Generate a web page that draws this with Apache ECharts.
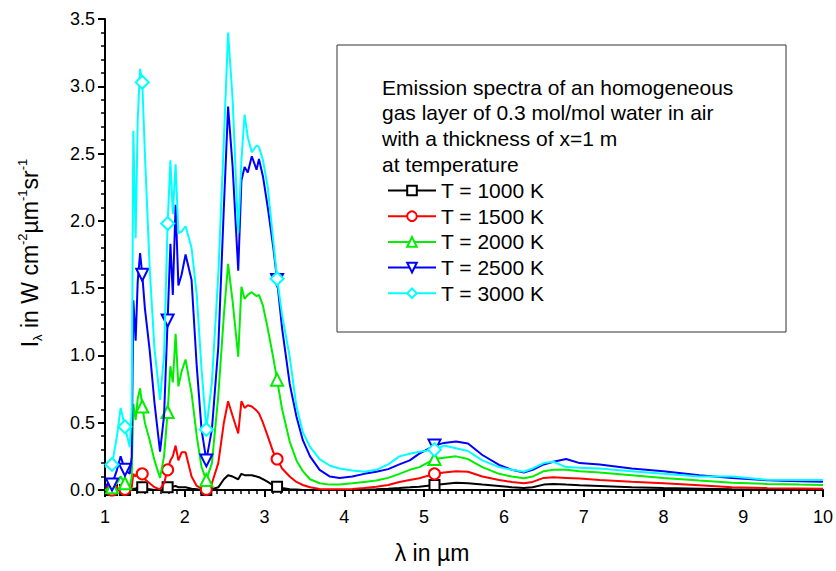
<!DOCTYPE html>
<html>
<head>
<meta charset="utf-8">
<script src="https://cdn.jsdelivr.net/npm/echarts@6/dist/echarts.min.js"></script>
<style>
  html, body { margin: 0; padding: 0; background: #fff; }
  #chart { width: 836px; height: 571px; }
</style>
</head>
<body>
<div id="chart"></div>
<script>
// wavelength grid in µm
const lambda = [
  1.00, 1.05, 1.088, 1.15, 1.196, 1.25, 1.31, 1.335, 1.355, 1.384,
  1.41, 1.44, 1.467, 1.50, 1.56, 1.62, 1.69, 1.74, 1.785, 1.82,
  1.85, 1.885, 1.92, 1.96, 2.01, 2.085, 2.15, 2.21, 2.27, 2.34,
  2.42, 2.49, 2.543, 2.60, 2.67, 2.71, 2.75, 2.79, 2.84, 2.90,
  2.93, 2.98, 3.04, 3.11, 3.157, 3.22, 3.315, 3.40, 3.48, 3.57,
  3.69, 3.82, 3.94, 4.10, 4.25, 4.40, 4.55, 4.69, 4.82, 4.94,
  5.13, 5.25, 5.40, 5.55, 5.73, 5.94, 6.10, 6.25, 6.36, 6.50,
  6.62, 6.78, 6.95, 7.20, 7.60, 8.00, 8.45, 8.86, 9.30, 9.70,
  10.00
]

// wavelengths where Origin put a symbol
const markerAt = [1.088, 1.25, 1.467, 1.785, 2.27, 3.157, 5.13]

const t1000 = [
  0, 0, 0, 0, 0, 0, 0, 0, 0.01, 0.01,
  0.02, 0.025, 0.02, 0.01, 0.005, 0, 0, 0.005, 0.02, 0.025,
  0.025, 0.03, 0.02, 0.02, 0.02, 0.01, 0.005, 0, 0, 0.005,
  0.02, 0.08, 0.11, 0.10, 0.08, 0.12, 0.11, 0.11, 0.11, 0.10,
  0.095, 0.08, 0.06, 0.035, 0.025, 0.015, 0.005, 0.003, 0, 0,
  0, 0, 0, 0, 0.002, 0.005, 0.01, 0.015, 0.02, 0.025,
  0.037, 0.045, 0.054, 0.05, 0.04, 0.03, 0.02, 0.015, 0.02, 0.04,
  0.045, 0.04, 0.035, 0.03, 0.02, 0.015, 0.01, 0.005, 0.004, 0.003,
  0.003
]
const t1500 = [
  0, 0, 0, 0.005, 0.01, 0.005, 0, 0.02, 0.12, 0.10,
  0.14, 0.16, 0.12, 0.08, 0.05, 0.02, 0.005, 0.05, 0.15, 0.22,
  0.25, 0.33, 0.22, 0.28, 0.28, 0.10, 0.03, 0.01, 0.005, 0.05,
  0.20, 0.50, 0.66, 0.55, 0.42, 0.66, 0.61, 0.63, 0.62, 0.59,
  0.57, 0.50, 0.40, 0.28, 0.23, 0.16, 0.10, 0.06, 0.037, 0.02,
  0.008, 0.005, 0.005, 0.008, 0.015, 0.025, 0.037, 0.06, 0.075, 0.087,
  0.12, 0.13, 0.14, 0.136, 0.10, 0.074, 0.06, 0.05, 0.06, 0.09,
  0.094, 0.09, 0.085, 0.075, 0.062, 0.05, 0.035, 0.02, 0.015, 0.012,
  0.01
]
const t2000 = [
  0, 0.01, 0.02, 0.05, 0.10, 0.05, 0.02, 0.10, 0.64, 0.52,
  0.68, 0.755, 0.62, 0.50, 0.37, 0.22, 0.09, 0.25, 0.58, 0.92,
  0.80, 1.16, 0.77, 0.88, 0.97, 0.72, 0.40, 0.17, 0.074, 0.20,
  0.70, 1.30, 1.68, 1.40, 0.99, 1.51, 1.42, 1.45, 1.47, 1.44,
  1.45, 1.37, 1.20, 0.98, 0.82, 0.60, 0.36, 0.22, 0.14, 0.08,
  0.05, 0.04, 0.04, 0.05, 0.06, 0.07, 0.09, 0.12, 0.15, 0.17,
  0.23, 0.24, 0.25, 0.23, 0.17, 0.12, 0.10, 0.087, 0.10, 0.14,
  0.15, 0.15, 0.14, 0.13, 0.11, 0.09, 0.07, 0.054, 0.045, 0.04,
  0.037
]
const t2500 = [
  0.02, 0.06, 0.04, 0.15, 0.25, 0.15, 0.12, 0.25, 1.41, 1.11,
  1.55, 1.76, 1.60, 1.35, 1.04, 0.65, 0.285, 0.55, 1.26, 1.83,
  1.45, 2.12, 1.52, 1.60, 1.75, 1.56, 0.92, 0.45, 0.22, 0.45,
  1.06, 2.10, 2.85, 2.40, 1.63, 2.30, 2.40, 2.36, 2.48, 2.38,
  2.46, 2.33, 2.10, 1.80, 1.56, 1.20, 0.79, 0.545, 0.37, 0.25,
  0.15, 0.10, 0.09, 0.10, 0.12, 0.136, 0.155, 0.19, 0.22, 0.27,
  0.33, 0.35, 0.36, 0.345, 0.26, 0.186, 0.15, 0.13, 0.15, 0.19,
  0.21, 0.23, 0.20, 0.19, 0.16, 0.14, 0.11, 0.09, 0.072, 0.065,
  0.062
]
const t3000 = [
  0.17, 0.19, 0.19, 0.40, 0.61, 0.47, 0.32, 0.60, 2.67, 1.87,
  2.75, 3.13, 3.03, 2.50, 1.65, 1.05, 0.67, 1.00, 1.98, 2.45,
  2.05, 2.42, 1.91, 1.92, 1.96, 1.80, 1.45, 0.90, 0.45, 0.80,
  1.60, 2.60, 3.40, 2.90, 1.91, 2.45, 2.79, 2.62, 2.51, 2.56,
  2.55, 2.45, 2.25, 1.85, 1.57, 1.30, 0.99, 0.62, 0.43, 0.32,
  0.23, 0.18, 0.16, 0.145, 0.135, 0.15, 0.19, 0.25, 0.27, 0.285,
  0.30, 0.33, 0.31, 0.29, 0.22, 0.17, 0.15, 0.136, 0.16, 0.20,
  0.21, 0.17, 0.165, 0.16, 0.14, 0.12, 0.10, 0.10, 0.076, 0.074,
  0.074
]

const seriesNames = ['T = 1000 K', 'T = 1500 K', 'T = 2000 K', 'T = 2500 K', 'T = 3000 K']
const seriesValues = [t1000, t1500, t2000, t2500, t3000]
const seriesColors = ['#000000', '#ff0000', '#00ee00', '#0000ff', '#00ffff']
const seriesSymbols = ['emptyRect', 'emptyCircle', 'emptyTriangle', 'emptyTriangle', 'emptyDiamond']
const symbolSizes = [10, 11, 12, 12, 13]
const symbolRotates = [0, 0, 0, 180, 0]

const headerLines = [
  'Emission spectra of an homogeneous',
  'gas layer of 0.3 mol/mol water in air',
  'with a thickness of x=1 m',
  'at temperature'
]

const FONT = '"Liberation Sans", Arial, sans-serif'

function buildData(values) {
  return lambda.map((x, i) => {
    if (markerAt.indexOf(x) >= 0) {
      return { value: [x, values[i]] }
    }
    return { value: [x, values[i]], symbol: 'none' }
  })
}

let myChart = echarts.init(document.getElementById('chart'), null, { renderer: 'svg' })

myChart.setOption({
  animation: false,
  backgroundColor: '#fff',
  grid: {
    left: 105,
    right: 12,
    top: 19,
    bottom: 81
  },
  legend: {
    data: seriesNames,
    orient: 'vertical',
    left: 382,
    top: 175,
    itemWidth: 48,
    itemHeight: 12,
    itemGap: 4.7,
    textStyle: {
      fontFamily: FONT,
      fontSize: 21,
      lineHeight: 21,
      color: '#000'
    }
  },
  xAxis: {
    type: 'value',
    min: 1,
    max: 10,
    interval: 1,
    axisLine: { lineStyle: { color: '#000', width: 2 } },
    axisTick: { show: true, inside: false, length: 7, lineStyle: { color: '#000', width: 2 } },
    minorTick: { show: true, splitNumber: 10, length: 4, lineStyle: { color: '#000', width: 1.5 } },
    splitLine: { show: false },
    axisLabel: {
      margin: 18,
      fontFamily: FONT,
      fontSize: 18,
      color: '#000'
    }
  },
  yAxis: {
    type: 'value',
    min: 0,
    max: 3.5,
    interval: 0.5,
    axisLine: { show: true, lineStyle: { color: '#000', width: 2 } },
    axisTick: { show: true, inside: false, length: 7, lineStyle: { color: '#000', width: 2 } },
    minorTick: { show: true, splitNumber: 5, length: 4, lineStyle: { color: '#000', width: 1.5 } },
    splitLine: { show: false },
    axisLabel: {
      margin: 10,
      fontFamily: FONT,
      fontSize: 18,
      color: '#000',
      formatter: v => v.toFixed(1)
    }
  },
  graphic: [
    {
      type: 'rect',
      shape: { x: 337, y: 45, width: 449, height: 287 },
      style: { fill: 'none', stroke: '#333', lineWidth: 1 },
      z: 0
    },
    ...headerLines.map((t, i) => ({
      type: 'text',
      x: 382,
      y: 87 + i * 25.8,
      style: {
        text: t,
        font: '21px ' + FONT,
        fill: '#000',
        verticalAlign: 'middle'
      }
    })),
    {
      type: 'text',
      x: 432,
      y: 553,
      style: {
        text: 'λ in µm',
        font: '23px ' + FONT,
        fill: '#000',
        align: 'center',
        verticalAlign: 'middle'
      }
    },
    {
      type: 'text',
      x: 30,
      y: 253,
      rotation: Math.PI / 2,
      style: {
        text: '{m|I}{sub|λ}{m| in W cm}{sup|-2}{m|µm}{sup|-1}{m|sr}{sup|-1}',
        align: 'center',
        verticalAlign: 'middle',
        fill: '#000',
        rich: {
          m: { fontFamily: FONT, fontSize: 23, lineHeight: 28, verticalAlign: 'middle' },
          sub: { fontFamily: FONT, fontSize: 13, lineHeight: 28, verticalAlign: 'bottom' },
          sup: { fontFamily: FONT, fontSize: 13, lineHeight: 28, verticalAlign: 'top' }
        }
      }
    }
  ],
  series: seriesNames.map((name, k) => ({
    name: name,
    type: 'line',
    data: buildData(seriesValues[k]),
    symbol: seriesSymbols[k],
    symbolSize: symbolSizes[k],
    symbolRotate: symbolRotates[k],
    showSymbol: true,
    color: seriesColors[k],
    lineStyle: { width: 2, color: seriesColors[k] },
    itemStyle: { color: seriesColors[k], borderWidth: 1 },
    z: 2 + k
  }))
})
</script>
</body>
</html>
